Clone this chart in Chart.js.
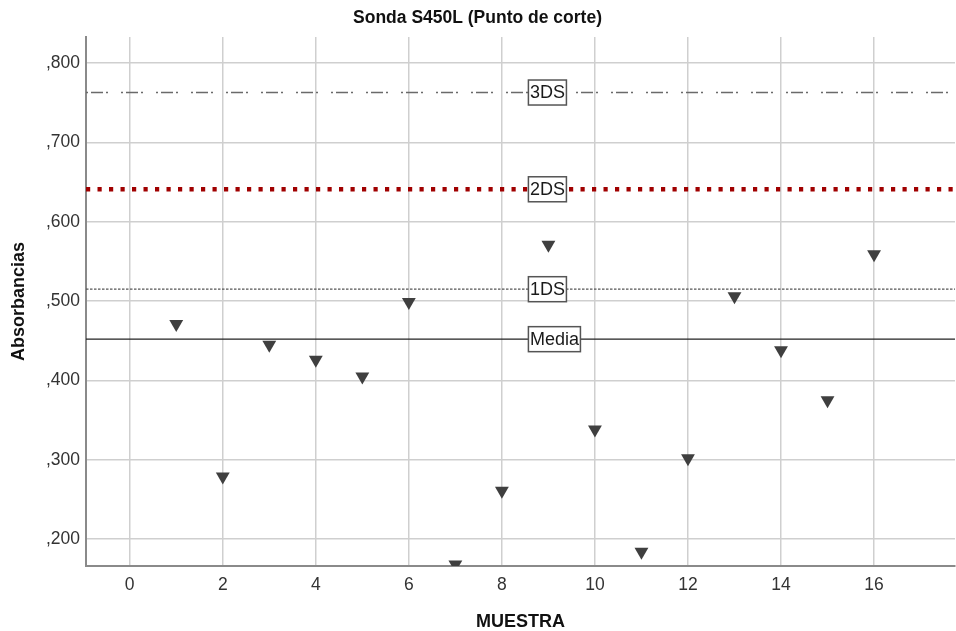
<!DOCTYPE html>
<html>
<head>
<meta charset="utf-8">
<script src="https://cdn.jsdelivr.net/npm/chart.js@4/dist/chart.umd.min.js"></script>
<style>
  html, body { margin: 0; padding: 0; background: #fff; }
  #wrap { width: 956px; height: 631px; }
</style>
</head>
<body>
<div id="wrap"><canvas id="c" width="956" height="631"></canvas></div>
<script>
// ---- data ----
const samples = [1, 2, 3, 4, 5, 6, 7, 8, 9, 10, 11, 12, 13, 14, 15, 16];
const absorbancias = [0.471, 0.279, 0.445, 0.426, 0.405, 0.499, 0.168, 0.261, 0.571, 0.338, 0.184, 0.302, 0.506, 0.438, 0.375, 0.559];
const refLabels = ['Media', '1DS', '2DS', '3DS'];
const refValues = [0.452, 0.515, 0.641, 0.763];
const xTicks = [0, 2, 4, 6, 8, 10, 12, 14, 16];
const yTicks = [0.2, 0.3, 0.4, 0.5, 0.6, 0.7, 0.8];

const X_MIN = -0.94, X_MAX = 17.74, Y_MIN = 0.166, Y_MAX = 0.833;
const LABEL_X = 8.57;

const refStyles = [
  { color: '#222222', width: 1.2, dash: [] },
  { color: '#555555', width: 1.3, dash: [2.5, 1.5] },
  { color: '#a00000', width: 4.5, dash: [4.2, 7.3] },
  { color: '#6a6a6a', width: 1.6, dash: [2, 3, 12, 3, 2, 13] }
];

const FONT = "'Liberation Sans', Arial, sans-serif";

const datasets = [{
  type: 'scatter',
  label: 'Absorbancias',
  data: samples.map((s, i) => ({ x: s, y: absorbancias[i] })),
  pointStyle: 'triangle',
  rotation: 180,
  pointRadius: 8,
  pointHoverRadius: 8,
  backgroundColor: '#3f3f3f',
  borderColor: '#3f3f3f',
  borderWidth: 0,
  showLine: false
}];
refValues.forEach((v, i) => {
  datasets.push({
    type: 'line',
    label: refLabels[i],
    data: [{ x: X_MIN, y: v }, { x: X_MAX, y: v }],
    borderColor: refStyles[i].color,
    borderWidth: refStyles[i].width,
    borderDash: refStyles[i].dash,
    borderCapStyle: 'butt',
    pointRadius: 0,
    fill: false
  });
});

const labelPlugin = {
  id: 'refLabels',
  afterDatasetsDraw(chart) {
    const ctx = chart.ctx;
    const xs = chart.scales.x, ys = chart.scales.y;
    ctx.save();
    ctx.font = "18px " + FONT;
    ctx.textBaseline = 'middle';
    ctx.textAlign = 'left';
    refValues.forEach((v, i) => {
      const px = xs.getPixelForValue(LABEL_X);
      const py = ys.getPixelForValue(v);
      const w = ctx.measureText(refLabels[i]).width;
      const bw = w + 3, bh = 25;
      ctx.fillStyle = '#ffffff';
      ctx.fillRect(px, py - bh / 2, bw, bh);
      ctx.strokeStyle = '#555555';
      ctx.lineWidth = 1.5;
      ctx.strokeRect(px, py - bh / 2, bw, bh);
      ctx.fillStyle = '#1a1a1a';
      ctx.fillText(refLabels[i], px + 1.5, py + 1);
    });
    ctx.restore();
  }
};

new Chart(document.getElementById('c'), {
  type: 'scatter',
  data: { datasets },
  plugins: [labelPlugin],
  options: {
    responsive: false,
    animation: false,
    layout: { autoPadding: false, padding: { left: 0, right: 1, top: 0, bottom: 0 } },
    plugins: {
      legend: { display: false },
      tooltip: { enabled: false },
      title: {
        display: true,
        text: 'Sonda S450L (Punto de corte)',
        color: '#111',
        font: { family: FONT, size: 17.5, weight: 'bold', lineHeight: 1.2 },
        padding: { top: 8, bottom: 8 }
      }
    },
    scales: {
      x: {
        type: 'linear',
        min: X_MIN,
        max: X_MAX,
        afterBuildTicks(scale) { scale.ticks = xTicks.map(v => ({ value: v })); },
        afterFit(scale) { scale.height = 65; },
        grid: { color: '#cfcfcf', lineWidth: 1.5, drawTicks: false },
        border: { color: '#8a8a8a', width: 2 },
        ticks: {
          color: '#333',
          padding: 9,
          font: { family: FONT, size: 17.5 },
          maxRotation: 0,
          callback: v => String(v)
        },
        title: {
          display: true,
          text: 'MUESTRA',
          color: '#111',
          font: { family: FONT, size: 18, weight: 'bold', lineHeight: 1.0 },
          padding: { top: 0, bottom: 0 }
        }
      },
      y: {
        type: 'linear',
        min: Y_MIN,
        max: Y_MAX,
        afterBuildTicks(scale) { scale.ticks = yTicks.map(v => ({ value: v })); },
        afterFit(scale) { scale.width = 86; },
        grid: { color: '#cfcfcf', lineWidth: 1.5, drawTicks: false },
        border: { color: '#8a8a8a', width: 2 },
        ticks: {
          color: '#333',
          padding: 6,
          font: { family: FONT, size: 17.5 },
          callback: v => ',' + Number(v).toFixed(3).split('.')[1]
        },
        title: {
          display: true,
          text: 'Absorbancias',
          color: '#111',
          font: { family: FONT, size: 18, weight: 'bold', lineHeight: 1.2 },
          padding: { top: 8, bottom: 0 }
        }
      }
    }
  }
});
</script>
</body>
</html>
